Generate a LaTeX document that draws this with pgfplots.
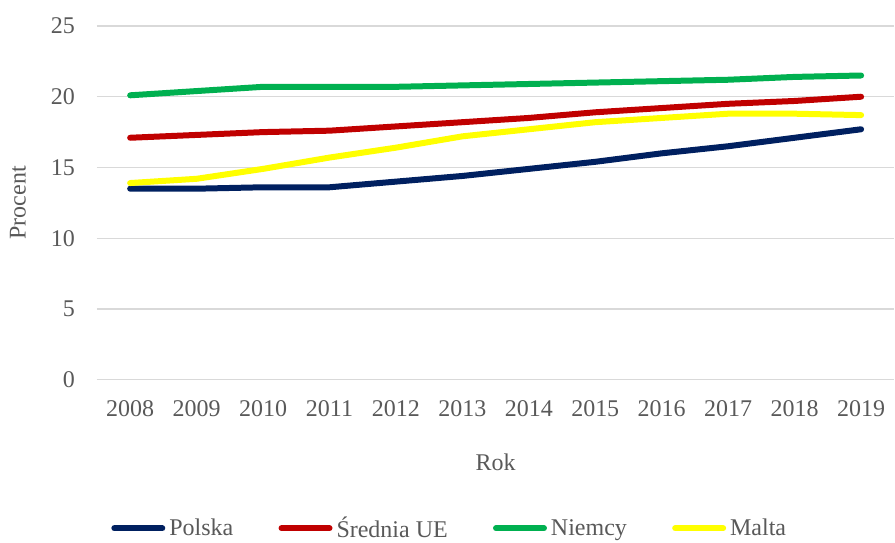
\documentclass[border=0pt]{standalone}
\usepackage{pgfplots}
\pgfplotsset{compat=1.18}
\usepackage{fontspec}
\setmainfont{Liberation Serif}
\definecolor{txt}{HTML}{595959}
\definecolor{grd}{HTML}{D9D9D9}
\definecolor{cpl}{HTML}{002060}
\definecolor{cue}{HTML}{C00000}
\definecolor{cde}{HTML}{00B050}
\definecolor{cmt}{HTML}{FFFF00}
\begin{document}
\begin{tikzpicture}
\begin{axis}[
  name=ax,
  scale only axis,
  width=598.5pt, height=265.5pt,
  xmin=2007.5, xmax=2019.5,
  ymin=0, ymax=25,
  xtick={2008,...,2019},
  ytick={0,5,...,25},
  xticklabel style={/pgf/number format/1000 sep={}},
  /pgf/number format/assume math mode=true,
  tick label style={font=\fontsize{18}{21}\selectfont, text=txt},
  ymajorgrids, grid style={grd, line width=1pt},
  axis x line*=bottom, axis y line*=left,
  y axis line style={draw=none},
  x axis line style={grd, line width=1pt, -},
  major tick length=0pt,
  xticklabel style={yshift=-12pt},
  yticklabel style={xshift=-13pt},
  xlabel={Rok}, ylabel={Procent},
  label style={font=\fontsize{18}{21}\selectfont, text=txt},
  xlabel style={yshift=-21pt},
  ylabel style={yshift=12pt},
  legend style={at={(0.442,-0.42)}, anchor=center, draw=none, legend columns=4,
    font=\fontsize{18}{21}\selectfont, text=txt, inner sep=0pt,
    nodes={inner xsep=1pt},
    /tikz/every odd column/.append style={column sep=2pt},
    /tikz/every even column/.append style={column sep=33pt}},
  legend image code/.code={\draw[#1, line width=4.5pt, line cap=round] (0pt,0pt) -- (36pt,0pt);},
  every axis plot/.append style={line width=4.5pt, line cap=round, line join=round, mark=none},
]
\addplot[cpl] coordinates {(2008,13.5)(2009,13.5)(2010,13.6)(2011,13.6)(2012,14.0)(2013,14.4)(2014,14.9)(2015,15.4)(2016,16.0)(2017,16.5)(2018,17.1)(2019,17.7)};
\addlegendentry{Polska}
\addplot[cue] coordinates {(2008,17.1)(2009,17.3)(2010,17.5)(2011,17.6)(2012,17.9)(2013,18.2)(2014,18.5)(2015,18.9)(2016,19.2)(2017,19.5)(2018,19.7)(2019,20.0)};
\addlegendentry{Średnia UE}
\addplot[cde] coordinates {(2008,20.1)(2009,20.4)(2010,20.7)(2011,20.7)(2012,20.7)(2013,20.8)(2014,20.9)(2015,21.0)(2016,21.1)(2017,21.2)(2018,21.4)(2019,21.5)};
\addlegendentry{Niemcy}
\addplot[cmt] coordinates {(2008,13.9)(2009,14.2)(2010,14.9)(2011,15.7)(2012,16.4)(2013,17.2)(2014,17.7)(2015,18.2)(2016,18.5)(2017,18.8)(2018,18.8)(2019,18.7)};
\addlegendentry{Malta}
\end{axis}
\useasboundingbox ([xshift=-72.75pt,yshift=-120pt]ax.south west) rectangle ([yshift=19.5pt]ax.north east);
\end{tikzpicture}
\end{document}
